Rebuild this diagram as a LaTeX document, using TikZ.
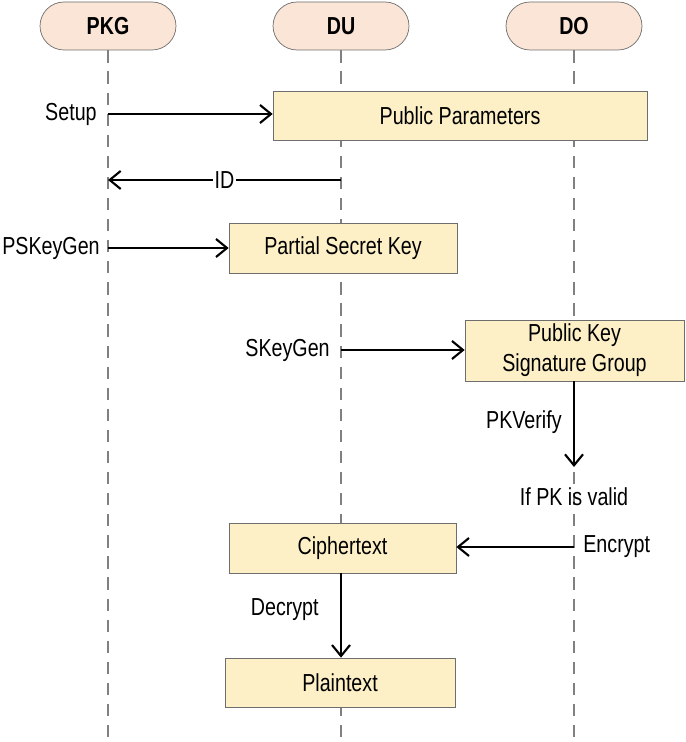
\documentclass[tikz,border=0pt]{standalone}
\usepackage{fontspec}
\setmainfont{Liberation Sans}[FakeStretch=0.8]
\usetikzlibrary{arrows.meta,positioning}
\definecolor{Peach}{HTML}{FBE5D6}
\definecolor{Sand}{HTML}{FDF0C6}
\definecolor{Frame}{HTML}{6E6E6E}
\tikzset{
  actor/.style={draw=Frame,fill=Peach,rounded corners=0.48cm,minimum width=2.72cm,minimum height=0.96cm,font=\bfseries\fontsize{14}{16}\selectfont},
  datum/.style={draw=Frame,fill=Sand,font=\fontsize{14}{17}\selectfont,align=center,inner sep=0pt},
  lifeline/.style={draw=gray,dashed,dash pattern=on 7pt off 5pt,line width=0.6pt},
  msg/.style={draw=black,line width=1.2pt,-{Straight Barb[length=2.2mm,width=3.6mm,line width=1.2pt]}},
  lbl/.style={font=\fontsize{14}{16}\selectfont,inner sep=0pt}
}
\begin{document}
\begin{tikzpicture}[x=0.02cm,y=-0.02cm]
    \useasboundingbox (0,0) rectangle (685,742);
    % actors and lifelines
    \node[actor] (pkg) at (108,26) {PKG};
    \node[actor] (du)  at (341,26) {DU};
    \node[actor] (do)  at (574,26) {DO};
    \coordinate (pkgend) at (108,742);
    \coordinate (duend)  at (341,742);
    \coordinate (doend)  at (574,742);
    \draw[lifeline] (pkg.south) -- (pkgend);
    \draw[lifeline] (du.south) -- (duend);
    \draw[lifeline] (do.south) -- (doend);
    % data boxes
    \node[datum,minimum width=7.48cm,minimum height=0.98cm] (pp)    at (460,115.5) {Public Parameters};
    \node[datum,minimum width=4.56cm,minimum height=1.0cm]  (psk)   at (343,248)   {Partial Secret Key};
    \node[datum,minimum width=4.38cm,minimum height=1.22cm] (pksg)  at (574.5,350.5) {Public Key\\Signature Group};
    \node[datum,minimum width=4.54cm,minimum height=1.0cm]  (ciph)  at (342.5,548) {Ciphertext};
    \node[datum,minimum width=4.6cm,minimum height=0.98cm]  (plain) at (340,682.5) {Plaintext};
    % messages
    \coordinate (setupA) at (108,114);
    \draw[msg] (setupA) -- (setupA -| pp.west);
    \node[lbl,anchor=east] (setup) at (97,114) {Setup};
    \coordinate (idA) at (341,180);
    \coordinate (idB) at (108,180);
    \draw[msg] (idA) -- node[lbl,fill=white,inner xsep=1pt] (id) {ID} (idB);
    \coordinate (pskA) at (108,248);
    \draw[msg] (pskA) -- (psk.west);
    \node[lbl,anchor=east] (pskgen) at (100,248) {PSKeyGen};
    \coordinate (skA) at (341,350);
    \draw[msg] (skA) -- (skA -| pksg.west);
    \node[lbl,anchor=east] (skgen) at (330,350) {SKeyGen};
    \coordinate (verB) at (574,467);
    \draw[msg] (pksg.south -| verB) -- (verB);
    \node[lbl,anchor=east] (pkver) at (562,422) {PKVerify};
    \node[lbl] (valid) at (574,497) {If PK is valid};
    \coordinate (encA) at (574,547);
    \draw[msg] (encA) -- (encA -| ciph.east);
    \node[lbl,anchor=west] (enc) at (583,547) {Encrypt};
    \draw[msg] (ciph.south -| duend) -- (plain.north -| duend);
    \node[lbl,anchor=east] (dec) at (319,610) {Decrypt};
\end{tikzpicture}
\end{document}
